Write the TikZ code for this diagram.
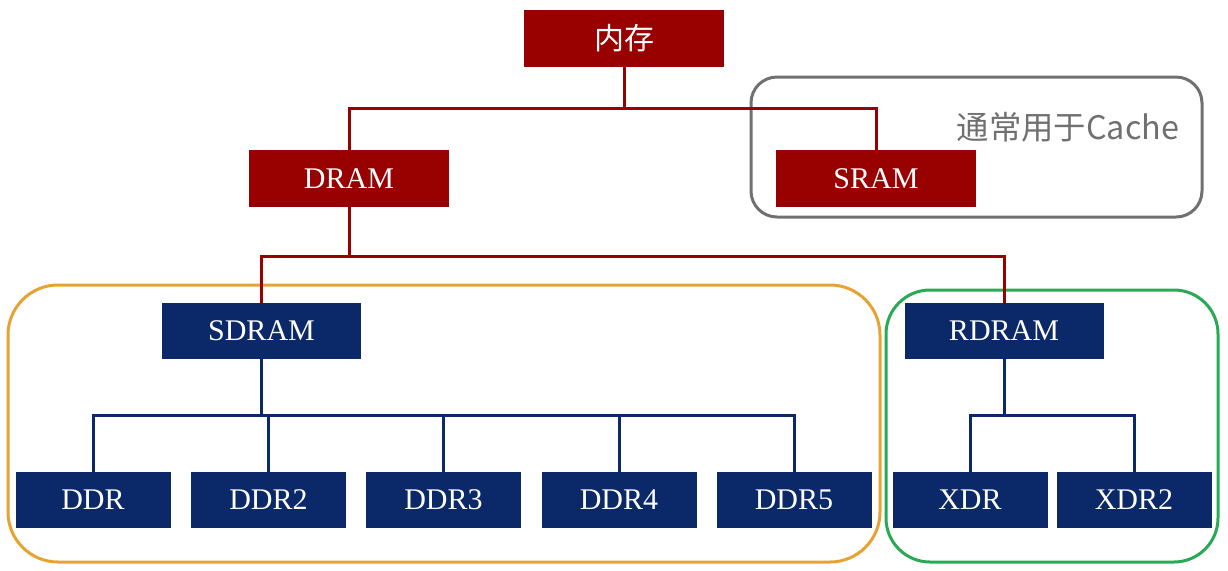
\documentclass[tikz,border=0pt]{standalone}
\usepackage{fontspec}
\setmainfont{Liberation Serif}
\newfontfamily\cjk{Noto Sans CJK SC}
\definecolor{memred}{RGB}{153,0,0}
\definecolor{memnavy}{RGB}{11,40,104}
\definecolor{frameorange}{RGB}{230,162,50}
\definecolor{framegreen}{RGB}{40,170,85}
\definecolor{framegrey}{RGB}{112,112,112}

\begin{document}
\begin{tikzpicture}[x=0.5pt,y=-0.5pt,
        redbox/.style={fill=memred,text=white,inner sep=0pt,minimum width=100pt,minimum height=28.5pt,font=\fontsize{15}{18}\selectfont},
        navybox/.style={fill=memnavy,text=white,inner sep=0pt,minimum width=99.5pt,minimum height=28pt,font=\fontsize{15}{18}\selectfont},
        leafbox/.style={navybox,minimum width=77.5pt},
        redline/.style={memred,line width=1.5pt},
        navyline/.style={memnavy,line width=1.5pt},
        groupframe/.style={line width=1.5pt,rounded corners=#1}]
        \useasboundingbox (0,0) rectangle (1228,570);
        % group frames
        \draw [groupframe=13pt,framegrey] (751,77) rectangle (1202,217);
        \draw [groupframe=25pt,frameorange] (8,285) rectangle (880,562);
        \draw [groupframe=22pt,framegreen] (886,290) rectangle (1218,562);
        \node [text=framegrey,font=\cjk\fontsize{16.2}{18}\selectfont] (cachenote) at (1068,127) {通常用于Cache};
        % red levels
        \node [redbox,font=\cjk\fontsize{15}{18}\selectfont] (mem) at (624,38.5) {内存};
        \node [redbox] (dram) at (349,178.5) {DRAM};
        \node [redbox] (sram) at (876,178.5) {SRAM};
        \coordinate (memjoin) at (624,108);
        \draw [redline] (mem.south) -- (memjoin);
        \draw [redline] (dram.north) |- (memjoin) -| (sram.north);
        % navy levels
        \node [navybox] (sdram) at (261.5,331) {SDRAM};
        \node [navybox] (rdram) at (1004,331) {RDRAM};
        \coordinate (dramjoin) at (349,256);
        \draw [redline] (dram.south) -- (dramjoin);
        \draw [redline] (sdram.north) |- (dramjoin) -| (rdram.north);
        \foreach \name/\x/\label in {ddr1/93/DDR,ddr2/268.5/DDR2,ddr3/443.5/DDR3,ddr4/619/DDR4,ddr5/794/DDR5,xdr1/970/XDR,xdr2/1134/XDR2}
            \node [leafbox] (\name) at (\x,500) {\label};
        \coordinate (sdjoin) at (261.5,415);
        \coordinate (rdjoin) at (1004,415);
        \draw [navyline] (sdram.south) -- (sdjoin);
        \draw [navyline] (ddr1.north) |- (sdjoin) -| (ddr5.north);
        \foreach \name in {ddr2,ddr3,ddr4}
            \draw [navyline] (\name.north) -- (\name.north |- sdjoin);
        \draw [navyline] (rdram.south) -- (rdjoin);
        \draw [navyline] (xdr1.north) |- (rdjoin) -| (xdr2.north);
\end{tikzpicture}
\end{document}
